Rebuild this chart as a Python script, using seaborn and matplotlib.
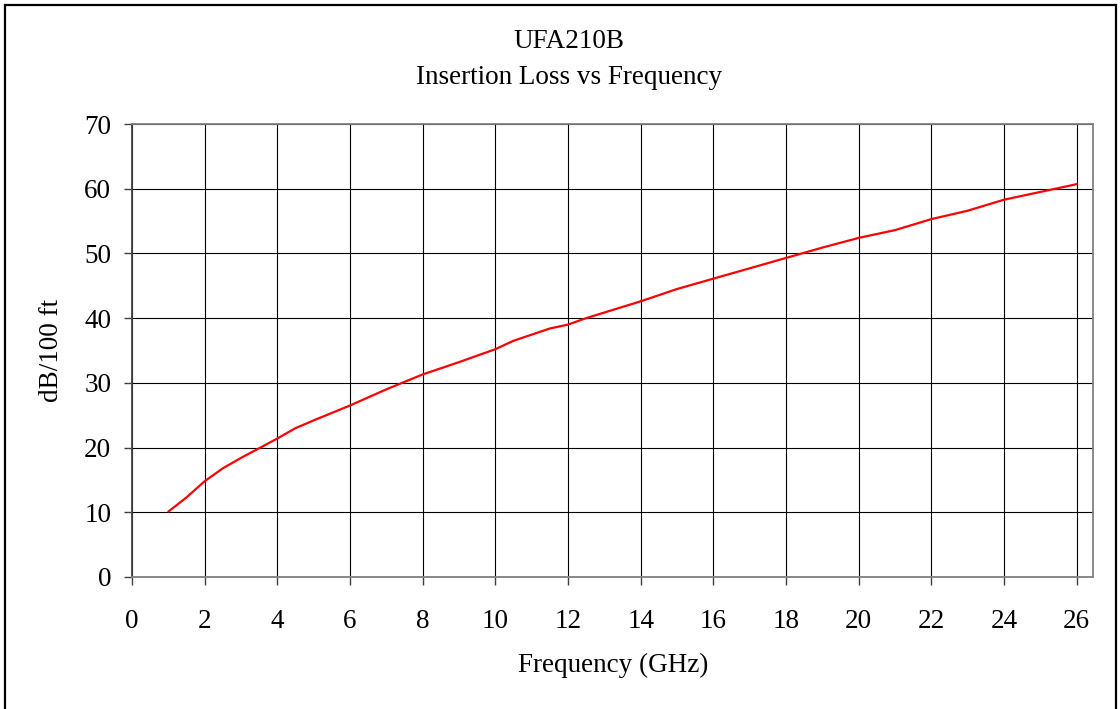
import pandas as pd
import numpy as np
import matplotlib
matplotlib.use('Agg')
import matplotlib.pyplot as plt
from matplotlib.patches import Rectangle
import seaborn as sns

# insertion loss
freq = [1, 1.5, 2, 2.5, 3, 3.5, 4, 4.5, 5, 6, 7, 8, 9, 10, 10.5, 11.5, 12, 12.5,
        14, 15, 16, 17, 18, 19, 20, 21, 22, 23, 24, 25, 26]
loss = [10.1, 12.3, 14.8, 16.8, 18.4, 19.9, 21.4, 23.0, 24.2, 26.5, 29.0, 31.3, 33.2, 35.2, 36.5, 38.4, 39.0, 40.0,
        42.6, 44.5, 46.1, 47.7, 49.3, 50.9, 52.4, 53.6, 55.3, 56.6, 58.3, 59.5, 60.7]
xticks = list(range(0, 27, 2))
yticks = list(range(0, 71, 10))

df = pd.DataFrame({'Frequency': freq, 'Loss': loss})

sns.set_style('white')
plt.rcParams['font.family'] = ['Liberation Serif', 'DejaVu Serif']
plt.rcParams['text.color'] = 'black'

fig = plt.figure(figsize=(11.2, 7.09), dpi=100)
ax = fig.add_axes([132/1120, 1-577/709, (1093-132)/1120, (577-124)/709])

sns.lineplot(data=df, x='Frequency', y='Loss', color='#ff0000', linewidth=1.6, ax=ax)

ax.set_xlim(0, 26.45)
ax.set_ylim(0, 70)
ax.set_xticks(xticks)
ax.set_yticks(yticks)
ax.tick_params(labelsize=19.5, direction='out', length=6, width=1, color='#404040',
               labelcolor='black', bottom=True, left=True)
ax.tick_params(axis='x', pad=17)
ax.tick_params(axis='y', pad=9)
ax.grid(True, color='black', linewidth=0.8)
ax.set_axisbelow(True)
for side in ['top', 'right', 'bottom']:
    ax.spines[side].set_color('#808080')
    ax.spines[side].set_linewidth(1.3)
ax.spines['left'].set_color('#404040')
ax.spines['left'].set_linewidth(1.3)

ax.set_xlabel('')
ax.set_ylabel('')
fig.text(613/1120, 1 - 665/709, 'Frequency (GHz)', ha='center', va='center', fontsize=19.5)
fig.text(52/1120, 1 - 350/709, 'dB/100 ft', ha='center', va='center', rotation=90, fontsize=19.5)
fig.text(569/1120, 1 - 42/709, 'UFA210B', ha='center', va='center', fontsize=19.5)
fig.text(569/1120, 1 - 78/709, 'Insertion Loss vs Frequency', ha='center', va='center', fontsize=19.5)

# outer chart frame
fig.patches.append(Rectangle((4.5/1120, -0.02), (1116-4.5)/1120, 1.02 - 4.5/709,
                             transform=fig.transFigure, fill=False, edgecolor='black', linewidth=1.6))

plt.savefig('out.png', dpi=100)
plt.close()
